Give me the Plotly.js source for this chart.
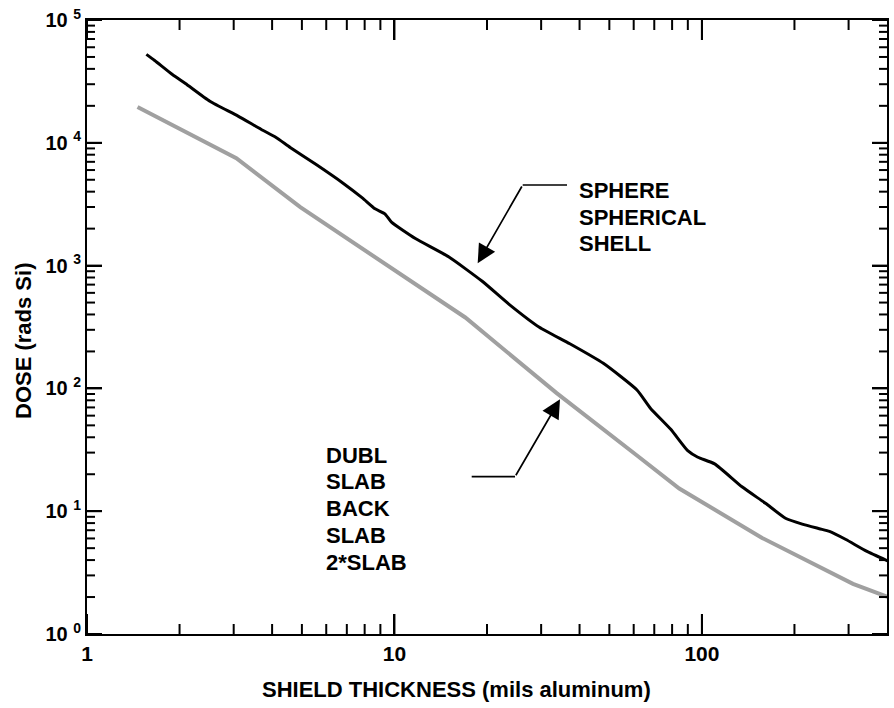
<!DOCTYPE html>
<html>
<head>
<meta charset="utf-8">
<script src="https://cdn.plot.ly/plotly-3.0.1.min.js"></script>
<style>html,body{margin:0;padding:0;background:#fff;} .c{width:894px;height:708px;display:block;}</style>
</head>
<body>
<div id="p0" class="c"></div>
<script>
// ---- data ----
const sphereX = [1.56, 1.66, 1.90, 2.09, 2.51, 3.10, 3.68, 4.11, 4.58, 5.58, 6.79, 7.86, 8.65, 9.31, 9.78, 11.7, 15.0, 19.3, 23.6, 29.6, 37.2, 47.8, 61.5, 68, 79.2, 89.9, 97, 110, 135, 161, 187, 212, 241, 260, 294, 343, 403];
const sphereY = [52500, 46800, 35800, 30400, 21800, 16500, 12900, 11100, 9170, 6620, 4710, 3560, 2900, 2640, 2260, 1660, 1180, 745, 484, 315, 231, 160, 97, 69, 46.4, 31.1, 27.5, 24.3, 15.8, 11.6, 8.77, 7.85, 7.2, 6.85, 5.88, 4.73, 3.93];
const slabX = [1.46, 3.06, 4.94, 7.86, 17.0, 33.7, 53, 61.5, 84.4, 157, 310, 403];
const slabY = [19600, 7480, 2990, 1380, 378, 91.5, 38.5, 28.4, 15.3, 6.06, 2.56, 2.0];

const xTickVals = [1, 10, 100];
const xTickText = ['1', '10', '100'];
const yTickVals = [1, 10, 100, 1000, 10000, 100000];
const yExponents = ['0', '1', '2', '3', '4', '5'];

const sphereLabels = ['SPHERE', 'SPHERICAL', 'SHELL'];
const slabLabels = ['DUBL', 'SLAB', 'BACK', 'SLAB', '2*SLAB'];
const xTitle = 'SHIELD THICKNESS (mils aluminum)';
const yTitle = 'DOSE (rads Si)';

(function () {
  const FONTFAM = 'Liberation Sans, Arial, Helvetica, sans-serif';
  const WID = 894, HGT = 708;
  const MAR = {l: 87, r: 7, t: 20, b: 74};
  const plotW = WID - MAR.l - MAR.r, plotH = HGT - MAR.t - MAR.b;
  const toPX = v => (v - MAR.l) / plotW;
  const toPY = v => (MAR.t + plotH - v) / plotH;
  const xMin = 1, xMax = 400, yMin = 1, yMax = 100000;
  const lx0 = Math.log10(xMin), lx1 = Math.log10(xMax), ly0 = Math.log10(yMin), ly1 = Math.log10(yMax);
  const xFrac = v => (Math.log10(v) - lx0) / (lx1 - lx0);
  const yFrac = v => (Math.log10(v) - ly0) / (ly1 - ly0);

  function minorVals(maxVal) {
    const out = [];
    for (let p = 1; p <= maxVal; p *= 10) for (let d = 2; d <= 9; d++) if (d * p < maxVal) out.push(d * p);
    return out;
  }
  const xMinor = minorVals(xMax);
  const yMinor = minorVals(yMax);

  // frame tick marks (inside, all four sides)
  const tickShapes = [];
  const tl = {color: '#000', width: 2};
  function xTicks(vals, len) {
    const f = len / plotH;
    vals.forEach(v => {
      const xp = xFrac(v);
      tickShapes.push({type: 'line', xref: 'paper', yref: 'paper', x0: xp, x1: xp, y0: 0, y1: f, line: tl, layer: 'above'});
      tickShapes.push({type: 'line', xref: 'paper', yref: 'paper', x0: xp, x1: xp, y0: 1, y1: 1 - f, line: tl, layer: 'above'});
    });
  }
  function yTicks(vals, len) {
    const f = len / plotW;
    vals.forEach(v => {
      const yp = yFrac(v);
      tickShapes.push({type: 'line', xref: 'paper', yref: 'paper', x0: 0, x1: f, y0: yp, y1: yp, line: tl, layer: 'above'});
      tickShapes.push({type: 'line', xref: 'paper', yref: 'paper', x0: 1, x1: 1 - f, y0: yp, y1: yp, line: tl, layer: 'above'});
    });
  }
  xTicks(xTickVals, 20); xTicks(xMinor, 10);
  yTicks(yTickVals, 15); yTicks(yMinor, 8);

  const traces = [
    {x: sphereX, y: sphereY, mode: 'lines', type: 'scatter', line: {color: '#000', width: 3, shape: 'spline', smoothing: 0.5}, hoverinfo: 'skip'},
    {x: slabX, y: slabY, mode: 'lines', type: 'scatter', line: {color: '#a0a0a0', width: 4}, hoverinfo: 'skip'}
  ];
  const labelFont = {family: FONTFAM, size: 22, color: '#000', weight: 'bold'};

  const xa = {type: 'log', range: [lx0, lx1], ticks: 'inside', ticklen: 20, tickwidth: 2, tickcolor: '#000',
    showline: true, linewidth: 2, linecolor: '#000', showgrid: false, zeroline: false, mirror: 'ticks',
    tickmode: 'array', tickvals: xTickVals, ticktext: xTickText,
    tickfont: {family: FONTFAM, size: 21, color: '#000', weight: 'bold'}};
  const ya = {type: 'log', range: [ly0, ly1], ticks: 'inside', ticklen: 15, tickwidth: 2, tickcolor: '#000',
    showline: true, linewidth: 2, linecolor: '#000', showgrid: false, zeroline: false, mirror: 'ticks',
    tickmode: 'array', tickvals: yTickVals, ticktext: yExponents.map(e => '10 <sup>' + e + '</sup>'),
    tickfont: {family: FONTFAM, size: 20, color: '#000', weight: 'bold'}};

  const annotations = [];
  sphereLabels.forEach((t, i) => annotations.push({xref: 'paper', yref: 'paper', x: toPX(577), y: toPY(190.7 + i * 26.5),
    xanchor: 'left', yanchor: 'middle', text: t, showarrow: false, font: labelFont}));
  slabLabels.forEach((t, i) => annotations.push({xref: 'paper', yref: 'paper', x: toPX(324), y: toPY(455 + i * 26.8),
    xanchor: 'left', yanchor: 'middle', text: t, showarrow: false, font: labelFont}));
  annotations.push({xref: 'paper', yref: 'paper', x: toPX(477.7), y: toPY(263.3), text: '', showarrow: true, ax: 45, ay: -78.3,
    arrowhead: 2, arrowsize: 2.2, arrowwidth: 1.7, arrowcolor: '#000', standoff: 0, startstandoff: 0});
  annotations.push({xref: 'paper', yref: 'paper', x: toPX(560), y: toPY(399.3), text: '', showarrow: true, ax: -45, ay: 77.4,
    arrowhead: 2, arrowsize: 2.2, arrowwidth: 1.7, arrowcolor: '#000', standoff: 0, startstandoff: 0});
  annotations.push({xref: 'paper', yref: 'paper', x: toPX(456), y: toPY(689), xanchor: 'center', yanchor: 'middle',
    text: xTitle, showarrow: false, font: labelFont});
  annotations.push({xref: 'paper', yref: 'paper', x: toPX(23), y: toPY(341), xanchor: 'center', yanchor: 'middle',
    text: yTitle, textangle: -90, showarrow: false, font: labelFont});

  const shapes = [
    {type: 'line', xref: 'paper', yref: 'paper', x0: toPX(522.7), x1: toPX(567), y0: toPY(185), y1: toPY(185), line: {color: '#000', width: 1.7}},
    {type: 'line', xref: 'paper', yref: 'paper', x0: toPX(471.7), x1: toPX(515), y0: toPY(476.7), y1: toPY(476.7), line: {color: '#000', width: 1.7}}
  ].concat(tickShapes);

  const layout = {width: WID, height: HGT, margin: {l: MAR.l, r: MAR.r, t: MAR.t, b: MAR.b}, showlegend: false,
    xaxis: xa, yaxis: ya, paper_bgcolor: '#fff', plot_bgcolor: '#fff', annotations: annotations, shapes: shapes};

  Plotly.newPlot('p0', traces, layout, {staticPlot: true, displayModeBar: false});
})();
</script>
</body>
</html>
